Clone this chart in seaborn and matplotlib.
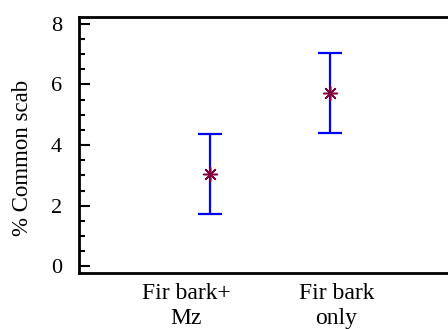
import matplotlib
matplotlib.use("Agg")
import matplotlib.pyplot as plt
import seaborn as sns
import pandas as pd
from matplotlib.ticker import MultipleLocator

sns.set_theme(style="ticks")
plt.rcParams["font.family"] = ["Liberation Serif", "DejaVu Serif"]
plt.rcParams["text.color"] = "black"
plt.rcParams["axes.labelcolor"] = "black"
plt.rcParams["xtick.color"] = "black"
plt.rcParams["ytick.color"] = "black"

tratamientos = ["Fir bark+\nMz", "Fir bark\nonly"]
media = [3.05, 5.72]
superior = [4.36, 7.03]
inferior = [1.74, 4.41]

df = pd.DataFrame({"Tratamiento": tratamientos, "Media": media,
                   "Sup": superior, "Inf": inferior})

fig = plt.figure(figsize=(4.48, 3.29), dpi=100)
ax = fig.add_axes([0.176, 0.17, 0.83, 0.778])

pos = list(range(len(df)))
ax.errorbar(pos, df["Media"],
            yerr=[df["Media"] - df["Inf"], df["Sup"] - df["Media"]],
            fmt="none", ecolor="#0000ff", elinewidth=1.6, capsize=8.6,
            capthick=1.6, zorder=2)
sns.scatterplot(data=df, x="Tratamiento", y="Media", ax=ax, marker=(8, 2, 0),
                s=100, color="#800040", linewidth=1.1, zorder=3)

ax.set_xlim(-1.09, 2.0)
ax.set_ylim(-0.22, 8.22)
ax.yaxis.set_major_locator(MultipleLocator(2))
ax.yaxis.set_minor_locator(MultipleLocator(0.5))
ax.tick_params(axis="y", which="major", direction="in", length=8, width=1.5,
               labelsize=16, pad=12)
ax.tick_params(axis="y", which="minor", direction="in", length=4, width=1.5)
ax.tick_params(axis="x", length=0, labelsize=17, pad=7)
# the labels in the original sit a bit off the points
ax.set_xticks([-0.2, 1.05])
ax.set_xticklabels(tratamientos, linespacing=1.25)
ax.set_xlabel("")
ax.set_ylabel("% Common scab", fontsize=16.5)
ax.yaxis.set_label_coords(-0.124, 0.45)

for s in ["left", "top", "bottom"]:
    ax.spines[s].set_linewidth(2)
    ax.spines[s].set_color("black")
ax.spines["right"].set_visible(False)

plt.savefig("out.png", dpi=100)
